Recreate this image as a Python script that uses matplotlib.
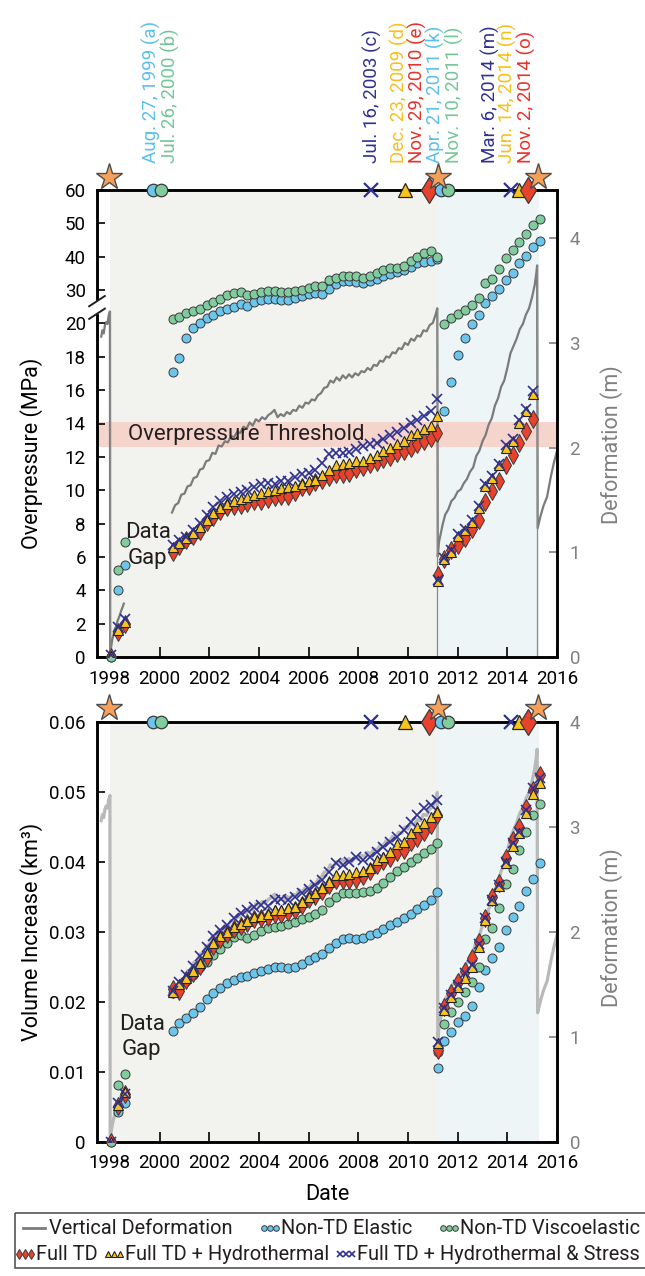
import numpy as np
import matplotlib
matplotlib.use('Agg')
import matplotlib.pyplot as plt
from matplotlib import font_manager
from matplotlib.patches import Rectangle
from matplotlib.transforms import blended_transform_factory

plt.rcParams['font.family'] = ['Roboto', 'DejaVu Sans']

# ---------------- data ----------------
# sample dates (decimal years)
tA = [1998.05, 1998.32, 1998.60]
tB = [2000.52, 2000.79, 2001.07, 2001.34, 2001.62, 2001.89, 2002.16, 2002.44, 2002.71, 2002.99,
      2003.26, 2003.53, 2003.81, 2004.08, 2004.36, 2004.63, 2004.90, 2005.18, 2005.45, 2005.73,
      2006.00, 2006.27, 2006.55, 2006.82, 2007.10, 2007.37, 2007.64, 2007.92, 2008.19, 2008.47,
      2008.74, 2009.01, 2009.29, 2009.56, 2009.84, 2010.11, 2010.38, 2010.66, 2010.93, 2011.17]
tC = [2011.20, 2011.47, 2011.75, 2012.02, 2012.30, 2012.57, 2012.84, 2013.12, 2013.39, 2013.67,
      2013.94, 2014.21, 2014.49, 2014.76, 2015.04, 2015.31]

# overpressure (MPa)
p_td = [0.0, 1.5, 2.0,
        6.29, 6.65, 6.99, 7.28, 7.58, 8.08, 8.38, 8.78, 8.97, 9.03, 9.12, 9.21, 9.37, 9.37, 9.47, 9.57,
        9.67, 9.67, 9.87, 10.17, 10.27, 10.47, 10.61, 10.77, 10.96, 11.0, 11.06, 11.26, 11.4, 11.56,
        11.72, 11.86, 12.02, 12.22, 12.36, 12.56, 12.76, 12.96, 13.15, 13.45,
        4.9, 5.89, 6.42, 6.69, 7.14, 7.68, 8.24, 9.27, 9.97, 10.57, 11.52, 12.12, 12.86, 13.55, 14.25]
p_hyd = [0.05, 1.6, 2.1,
         6.58, 6.85, 7.14, 7.44, 7.78, 8.22, 8.64, 8.92, 9.18, 9.37, 9.47, 9.57, 9.71, 9.83, 9.97, 10.03,
         10.11, 10.17, 10.23, 10.37, 10.57, 10.63, 10.91, 11.21, 11.51, 11.56, 11.66, 11.76, 11.76, 11.92,
         12.12, 12.36, 12.56, 12.76, 12.96, 13.31, 13.45, 13.65, 13.85, 14.45,
         4.58, 5.85, 6.3, 7.25, 7.6, 8.1, 8.95, 10.25, 10.75, 11.5, 12.55, 12.95, 14.05, 14.75, 15.75]
p_str = [0.1, 1.8, 2.3,
         6.69, 6.99, 7.22, 7.62, 8.04, 8.52, 8.97, 9.33, 9.57, 9.77, 9.91, 10.03, 10.17, 10.37, 10.43, 10.37,
         10.57, 10.57, 10.77, 10.96, 11.06, 11.21, 11.66, 12.16, 12.26, 12.26, 12.32, 12.46, 12.66, 12.76,
         12.86, 13.06, 13.31, 13.51, 13.75, 14.05, 14.19, 14.45, 14.75, 15.45,
         4.64, 5.95, 6.39, 7.38, 7.68, 8.22, 9.07, 10.37, 10.87, 11.6, 12.7, 13.09, 14.19, 14.89, 15.93]
p_el = [0.0, 4.0, 5.5,
        17.07, 17.9, 19.1, 19.7, 20.0, 21.5, 22.4, 23.6, 24.3, 24.9, 25.7, 25.1, 26.3, 27.0, 27.2, 27.2,
        27.0, 27.0, 27.5, 28.2, 28.9, 29.1, 28.7, 30.4, 31.7, 32.7, 32.7, 32.5, 32.2, 32.7, 33.2, 34.2,
        34.9, 35.5, 36.0, 37.0, 38.0, 38.3, 38.8, 39.2,
        14.75, 16.5, 18.09, 19.12, 19.98, 22.6, 26.0, 28.2, 30.2, 33.0, 35.2, 38.0, 40.3, 42.8, 44.6]
p_ve = [0.0, 5.2, 6.9,
        21.3, 21.9, 23.1, 23.8, 24.4, 25.4, 26.5, 27.2, 28.4, 29.0, 29.4, 28.4, 28.9, 29.4, 29.7, 29.7,
        29.4, 29.4, 29.7, 30.1, 30.5, 31.2, 31.2, 32.9, 33.7, 34.2, 34.2, 34.2, 33.7, 34.2, 35.2, 36.0,
        36.6, 36.6, 37.3, 38.8, 39.8, 41.0, 41.8, 40.0,
        19.96, 21.6, 22.9, 24.1, 25.4, 27.7, 32.2, 33.2, 36.3, 39.6, 42.1, 44.5, 46.9, 49.4, 51.4]

# volume increase (km3)
v_td = [0.0, 0.0052, 0.0068,
        0.0218, 0.0216, 0.0232, 0.0242, 0.0252, 0.0265, 0.0280, 0.0290, 0.0297, 0.0305, 0.0309, 0.0313,
        0.0318, 0.0320, 0.0322, 0.0326, 0.0326, 0.0328, 0.0331, 0.0339, 0.0347, 0.0351, 0.0359, 0.0367,
        0.0374, 0.0374, 0.0374, 0.0376, 0.0380, 0.0387, 0.0396, 0.0402, 0.0406, 0.0414, 0.0417, 0.0429,
        0.0435, 0.0443, 0.0453, 0.0467,
        0.01314, 0.01933, 0.02124, 0.0229, 0.02448, 0.02624, 0.02862, 0.03195, 0.03505, 0.03695,
        0.04052, 0.04314, 0.04505, 0.04767, 0.05029, 0.05243]
v_hyd = [0.0, 0.0053, 0.0072,
         0.02147, 0.02257, 0.02348, 0.02448, 0.02552, 0.02705, 0.02838, 0.02943, 0.03005, 0.03076,
         0.03114, 0.03162, 0.0321, 0.03229, 0.03257, 0.03314, 0.03314, 0.03338, 0.03362, 0.03433,
         0.03505, 0.03552, 0.03633, 0.0372, 0.03814, 0.03814, 0.03829, 0.03852, 0.03876, 0.03919,
         0.04029, 0.04076, 0.04148, 0.04252, 0.0429, 0.0441, 0.04495, 0.04562, 0.04638, 0.04719,
         0.0141, 0.01886, 0.02076, 0.02219, 0.02338, 0.02505, 0.0279, 0.03171, 0.03457, 0.03662,
         0.03981, 0.04229, 0.0441, 0.04695, 0.04971, 0.05124]
v_str = [0.0, 0.0056, 0.0069,
         0.0216, 0.0229, 0.02386, 0.02514, 0.02657, 0.0279, 0.02943, 0.03029, 0.031, 0.03195, 0.03267,
         0.03314, 0.03352, 0.03386, 0.03371, 0.03457, 0.03467, 0.03457, 0.03505, 0.03552, 0.0361,
         0.03671, 0.03743, 0.03862, 0.03981, 0.03957, 0.04005, 0.04076, 0.04029, 0.04076, 0.04148,
         0.04219, 0.0429, 0.04362, 0.04457, 0.04576, 0.04671, 0.04767, 0.04814, 0.04886,
         0.01433, 0.0191, 0.021, 0.02243, 0.0241, 0.02529, 0.02829, 0.03195, 0.03457, 0.03671,
         0.04005, 0.04267, 0.04433, 0.04743, 0.05052, 0.05195]
v_el = [0.0, 0.0043, 0.0056,
        0.01586, 0.01695, 0.01776, 0.01848, 0.01933, 0.02038, 0.02124, 0.02195, 0.02267, 0.02314,
        0.02362, 0.02376, 0.02419, 0.02443, 0.02467, 0.02495, 0.025, 0.02481, 0.025, 0.02543, 0.026,
        0.02648, 0.0268, 0.02767, 0.02838, 0.02895, 0.0291, 0.02895, 0.02919, 0.02957, 0.02981,
        0.03038, 0.031, 0.03148, 0.03195, 0.03257, 0.03329, 0.03386, 0.03457, 0.03576,
        0.01062, 0.01448, 0.01576, 0.0171, 0.01805, 0.01943, 0.0221, 0.02457, 0.02624, 0.02781,
        0.03029, 0.0321, 0.03376, 0.0359, 0.03757, 0.03981]
v_ve = [0.0, 0.0081, 0.0097,
        0.0213, 0.0222, 0.0230, 0.0238, 0.02495, 0.02576, 0.02671, 0.02752, 0.02848, 0.02924, 0.02957,
        0.0291, 0.02957, 0.03014, 0.03062, 0.03076, 0.0308, 0.0311, 0.03148, 0.03181, 0.03219, 0.03257,
        0.03314, 0.03424, 0.03505, 0.03562, 0.03562, 0.03562, 0.03576, 0.03586, 0.03624, 0.03695,
        0.0379, 0.03871, 0.03933, 0.03995, 0.04062, 0.04124, 0.04186, 0.0427,
        0.0129, 0.01686, 0.01862, 0.02005, 0.02148, 0.0229, 0.02505, 0.02895, 0.03052, 0.03338,
        0.03681, 0.039, 0.04171, 0.04433, 0.04671, 0.04824]

# vertical deformation (m), nan marks the data gap
defo_t = [1997.65, 1997.70, 1997.75, 1997.80, 1997.85, 1997.90, 1997.95, 1998.00,
          1998.01, 1998.05, 1998.10, 1998.15, 1998.20, 1998.25, 1998.30, 1998.35, 1998.40, 1998.45,
          1998.50, 1998.56,
          1999.50,
          2000.5, 2000.625, 2000.75, 2000.875,
          2001.0, 2001.125, 2001.25, 2001.375, 2001.5, 2001.625, 2001.75, 2001.875,
          2002.0, 2002.125, 2002.25, 2002.375, 2002.5, 2002.625, 2002.75, 2002.875,
          2003.0, 2003.125, 2003.25, 2003.375, 2003.5, 2003.625, 2003.75, 2003.875,
          2004.0, 2004.125, 2004.25, 2004.375, 2004.5, 2004.625, 2004.75, 2004.875,
          2005.0, 2005.125, 2005.25, 2005.375, 2005.5, 2005.625, 2005.75, 2005.875,
          2006.0, 2006.125, 2006.25, 2006.375, 2006.5, 2006.625, 2006.75, 2006.875,
          2007.0, 2007.125, 2007.25, 2007.375, 2007.5, 2007.625, 2007.75, 2007.875,
          2008.0, 2008.125, 2008.25, 2008.375, 2008.5, 2008.625, 2008.75, 2008.875,
          2009.0, 2009.125, 2009.25, 2009.375, 2009.5, 2009.625, 2009.75, 2009.875,
          2010.0, 2010.125, 2010.25, 2010.375, 2010.5, 2010.625, 2010.75, 2010.875,
          2011.0, 2011.125, 2011.18,
          2011.20, 2011.25, 2011.33, 2011.40, 2011.50, 2011.625, 2011.75, 2011.875,
          2012.0, 2012.125, 2012.25, 2012.375, 2012.5, 2012.625, 2012.75, 2012.875,
          2013.0, 2013.125, 2013.25, 2013.375, 2013.5, 2013.625, 2013.75, 2013.875,
          2014.0, 2014.125, 2014.25, 2014.375, 2014.5, 2014.625, 2014.75, 2014.875,
          2015.0, 2015.1, 2015.16, 2015.2,
          2015.22, 2015.33, 2015.45, 2015.6, 2015.75, 2015.87, 2016.0, 2016.1]
defo_v = [3.06, 3.12, 3.09, 3.17, 3.20, 3.18, 3.26, 3.30,
          0.00, 0.10, 0.17, 0.22, 0.27, 0.29, 0.34, 0.37, 0.40, 0.44,
          0.47, 0.51,
          np.nan,
          1.38, 1.45, 1.47, 1.55,
          1.56, 1.63, 1.64, 1.71, 1.72, 1.79, 1.80, 1.87,
          1.88, 1.95, 1.94, 2.02, 2.01, 2.06, 2.05, 2.11,
          2.10, 2.15, 2.14, 2.20, 2.18, 2.24, 2.21, 2.27,
          2.25, 2.29, 2.27, 2.31, 2.33, 2.36, 2.29, 2.32,
          2.30, 2.34, 2.32, 2.36, 2.35, 2.40, 2.38, 2.43,
          2.42, 2.46, 2.45, 2.50, 2.52, 2.57, 2.58, 2.64,
          2.62, 2.67, 2.64, 2.69, 2.66, 2.70, 2.67, 2.71,
          2.69, 2.73, 2.72, 2.76, 2.74, 2.79, 2.78, 2.83,
          2.82, 2.87, 2.86, 2.91, 2.90, 2.95, 2.94, 3.00,
          2.98, 3.04, 3.02, 3.07, 3.06, 3.12, 3.11, 3.17,
          3.19, 3.28, 3.33,
          0.96, 1.10, 1.19, 1.27, 1.36, 1.41, 1.49, 1.52,
          1.58, 1.60, 1.66, 1.70, 1.77, 1.81, 1.92, 1.97,
          2.06, 2.12, 2.22, 2.28, 2.40, 2.47, 2.58, 2.64,
          2.76, 2.90, 2.97, 3.04, 3.13, 3.18, 3.27, 3.33,
          3.44, 3.55, 3.65, 3.74,
          1.23, 1.34, 1.44, 1.53, 1.72, 1.85, 1.97, 2.05]

# eruptions and threshold-crossing dates shown along the top
erupt_t = [1997.96, 2011.2, 2015.24]
event_t = [1999.72, 2000.04, 2008.52, 2009.88, 2010.84, 2011.34, 2011.60, 2014.16, 2014.48, 2014.84]
event_kind = ['el', 've', 'str', 'hyd', 'td', 'el', 've', 'str', 'hyd', 'td']
event_text = ['Aug. 27, 1999 (a)', 'Jul. 26, 2000 (b)', 'Jul. 16, 2003 (c)', 'Dec. 23, 2009 (d)',
              'Nov. 29, 2010 (e)', 'Apr. 21, 2011 (k)', 'Nov. 10, 2011 (l)', 'Mar. 6, 2014 (m)',
              'Jun. 14, 2014 (n)', 'Nov. 2, 2014 (o)']
event_text_x = [1999.66, 2000.42, 2008.56, 2009.64, 2010.38, 2011.12, 2011.88, 2013.30, 2014.02, 2014.76]

threshold = (12.6, 14.1)
gray_span = (1998.02, 2011.22)
blue_span = (2011.22, 2015.28)

# ---------------- styles ----------------
C_EL = '#6cc6ec'
C_VE = '#80cc9e'
C_TD = '#e8412c'
C_HYD = '#f8c41c'
C_STR = '#2e3192'
C_STAR = '#f6a05a'
EDGE = '#3a3a3a'
GRAYTXT = '#808080'
INK = '#231f20'

text_col = {'el': '#5cc0ea', 've': '#72c796', 'td': '#e8312a', 'hyd': '#f9c01a', 'str': C_STR}

small = {
    'el': dict(marker='o', ms=6.5, mfc=C_EL, mec=EDGE, mew=0.7),
    've': dict(marker='o', ms=6.5, mfc=C_VE, mec=EDGE, mew=0.7),
    'td': dict(marker='d', ms=9, mfc=C_TD, mec=EDGE, mew=0.7),
    'hyd': dict(marker='^', ms=7, mfc=C_HYD, mec='#222222', mew=0.8),
    'str': dict(marker='x', ms=7, mec=C_STR, mew=1.2),
}
big = {
    'el': dict(marker='o', ms=9, mfc=C_EL, mec=EDGE, mew=0.9),
    've': dict(marker='o', ms=9, mfc=C_VE, mec=EDGE, mew=0.9),
    'td': dict(marker='d', ms=13, mfc=C_TD, mec=EDGE, mew=0.9),
    'hyd': dict(marker='^', ms=10, mfc=C_HYD, mec='#222222', mew=0.9),
    'str': dict(marker='x', ms=10, mec=C_STR, mew=1.6),
}

W, H = 645, 1276
fig = plt.figure(figsize=(W / 100, H / 100), dpi=100)


def box(l, t, r, b):
    return [l / W, 1 - b / H, (r - l) / W, (b - t) / H]


def fwd(y):
    y = np.asarray(y, dtype=float)
    return np.where(y <= 20, y, 20 + (y - 20) / 5)


def inv(z):
    z = np.asarray(z, dtype=float)
    return np.where(z <= 20, z, 20 + (z - 20) * 5)


def make_panel(rect):
    axr = fig.add_axes(rect)
    ax = axr.twinx()
    # left axis (models) on top, right axis (deformation) underneath
    ax.yaxis.set_label_position('left')
    ax.yaxis.tick_left()
    axr.yaxis.set_label_position('right')
    axr.yaxis.tick_right()
    ax.set_zorder(axr.get_zorder() + 1)
    ax.patch.set_visible(False)
    for a in (ax, axr):
        for s in a.spines.values():
            s.set_linewidth(1.8)
        a.set_xlim(1997.48, 2016)
    axr.axvspan(*gray_span, color='#f2f2ee', lw=0, zorder=0)
    axr.axvspan(*blue_span, color='#eef5f6', lw=0, zorder=0)
    ax.tick_params(axis='y', direction='in', length=6, width=1.2, labelsize=13.5, pad=8)
    axr.tick_params(axis='y', direction='in', length=6, width=1.2, labelsize=13.5, pad=9,
                    colors=GRAYTXT, labelcolor=GRAYTXT)
    axr.tick_params(axis='x', direction='in', length=7, width=1.2, labelsize=13.5, pad=9, top=False)
    ax.tick_params(axis='x', bottom=False, top=False, labelbottom=False)
    axr.set_xticks(range(1998, 2017, 2))
    return ax, axr


def plot_models(ax, tm, tn, td, hyd, stv, el, ve):
    ax.plot(tn, el, ls='none', zorder=3, clip_on=False, **small['el'])
    ax.plot(tn, ve, ls='none', zorder=3, clip_on=False, **small['ve'])
    ax.plot(tm, td, ls='none', zorder=4, **small['td'])
    ax.plot(tm, hyd, ls='none', zorder=4, **small['hyd'])
    ax.plot(tm, stv, ls='none', zorder=5, **small['str'])


def plot_events(ax, ytop, ystar, labels):
    for t, k in zip(event_t, event_kind):
        ax.plot([t], [ytop], ls='none', clip_on=False, zorder=8, **big[k])
    ax.plot(erupt_t, [ystar] * len(erupt_t), ls='none', marker='*', ms=20, mfc=C_STAR,
            mec='#4d4d4d', mew=1.0, clip_on=False, zorder=9)
    if labels:
        tr = blended_transform_factory(ax.transData, ax.transAxes)
        for x, s, k in zip(event_text_x, event_text, event_kind):
            ax.text(x, 1.058, s, transform=tr, rotation=90, ha='center', va='bottom',
                    fontsize=13.5, color=text_col[k])


# ---------------- top panel: overpressure ----------------
ax1, ax1r = make_panel(box(97, 190, 557, 657))
ax1.set_yscale('function', functions=(fwd, inv))
ax1.set_ylim(0, 60)
ticks1 = [0, 2, 4, 6, 8, 10, 12, 14, 16, 18, 20, 30, 40, 50, 60]
ax1.set_yticks(ticks1)
ax1.set_yticklabels([str(v) for v in ticks1])
ax1.minorticks_off()
ax1r.set_ylim(0, 4.46)
ax1r.set_yticks([0, 1, 2, 3, 4])
ax1r.set_yticklabels(['0', '1', '2', '3', '4'])

band_tr = blended_transform_factory(ax1r.transAxes, ax1.transData)
ax1r.add_patch(Rectangle((0, threshold[0]), 1, threshold[1] - threshold[0], transform=band_tr,
                         facecolor='#f5d4cb', edgecolor='none', zorder=1))
ax1.text(1998.72, 13.35, 'Overpressure Threshold', fontsize=16, va='center', ha='left',
         color=INK, zorder=6)

dt = np.array(defo_t)
dv = np.array(defo_v)
ax1r.plot(dt, dv, color='#7b7b7b', lw=1.6, zorder=2)
with np.errstate(invalid='ignore'):
    drop = np.where(np.diff(dv) < -1)[0]
ax1r.vlines(dt[drop], 0, dv[drop], color='#8a8a8a', lw=0.9, zorder=2)

top_tm = tA + tB + tC[:15]
top_tn = tA + tB + tC[1:]
plot_models(ax1, top_tm, top_tn, p_td, p_hyd, p_str, p_el, p_ve)
plot_events(ax1, 60, 64, True)

ax1.text(1999.52, 6.7, 'Data\nGap', fontsize=16, ha='center', va='center', linespacing=1.3,
         color=INK, zorder=6)
ax1.set_ylabel('Overpressure (MPa)', fontsize=15.5)
ax1.yaxis.set_label_coords(-0.117, 0.437)
ax1r.set_ylabel('Deformation (m)', fontsize=15.5, color=GRAYTXT, rotation=90)
ax1r.yaxis.set_label_coords(1.093, 0.454)

# axis break on the left spine
for c in (0.735, 0.762):
    ax1.plot([-0.017, 0.017], [c - 0.011, c + 0.011], transform=ax1.transAxes, color=INK,
             lw=1.4, clip_on=False, zorder=10)
ax1.plot([0, 0], [0.738, 0.759], transform=ax1.transAxes, color='white', lw=3,
         clip_on=False, zorder=9)

# ---------------- bottom panel: volume ----------------
ax2, ax2r = make_panel(box(97, 722, 557, 1142))
ax2.set_ylim(0, 0.06)
ticks2 = [0, 0.01, 0.02, 0.03, 0.04, 0.05, 0.06]
ax2.set_yticks(ticks2)
ax2.set_yticklabels(['0', '0.01', '0.02', '0.03', '0.04', '0.05', '0.06'])
ax2r.set_ylim(0, 4.0)
ax2r.set_yticks([0, 1, 2, 3, 4])
ax2r.set_yticklabels(['0', '1', '2', '3', '4'])

ax2r.plot(dt, dv, color='#b9b9b9', lw=2.3, zorder=2)
bot_t = tA + tB + tC
plot_models(ax2, bot_t, bot_t, v_td, v_hyd, v_str, v_el, v_ve)
plot_events(ax2, 0.06, 0.062, False)

ax2.text(1999.28, 0.0150, 'Data\nGap', fontsize=16, ha='center', va='center', linespacing=1.3,
         color=INK, zorder=6)
ax2.set_ylabel('Volume Increase (km³)', fontsize=15.5)
ax2.yaxis.set_label_coords(-0.117, 0.5)
ax2r.set_ylabel('Deformation (m)', fontsize=15.5, color=GRAYTXT, rotation=90)
ax2r.yaxis.set_label_coords(1.093, 0.51)
ax2r.set_xlabel('Date', fontsize=15.5, labelpad=8)

# ---------------- legend ----------------
lax = fig.add_axes([0, 0, 1, 1], zorder=20)
lax.set_xlim(0, W)
lax.set_ylim(H, 0)
lax.axis('off')
lax.add_patch(Rectangle((15, 1213), 640, 55, fill=False, edgecolor='#555555', lw=1.2))

installed = {f.name for f in font_manager.fontManager.ttflist}
lfam = 'Liberation Sans Narrow' if 'Liberation Sans Narrow' in installed else 'Roboto'
renderer = fig.canvas.get_renderer()


def text_width(s, size):
    t = lax.text(0, 0, s, fontsize=size, family=lfam)
    w = t.get_window_extent(renderer).width
    t.remove()
    return w


# size the legend font so the longest entry fills the row
lsize = 13 * 283 / text_width('Full TD + Hydrothermal & Stress', 13)
lfont = dict(fontsize=lsize, va='center', ha='left', color=INK, family=lfam)


def trio(x0, y, key):
    st = dict(small[key])
    st['ms'] = st['ms'] * 0.62
    lax.plot([x0 + 2, x0 + 8, x0 + 14], [y, y, y], ls='none', **st)


def legend_row(y, first, items, right=640):
    # first: (handle drawer, label, text x); items: list of (key, label)
    draw, label, x_text = first
    draw()
    widths = [text_width(s, lsize) for _, s in items]
    w0 = text_width(label, lsize)
    lax.text(x_text, y, label, **lfont)
    used = x_text + w0 + sum(19 + w for w in widths)
    gap = (right - used) / len(items)
    x = x_text + w0 + gap
    for (key, s), w in zip(items, widths):
        trio(x, y, key)
        lax.text(x + 19, y, s, **lfont)
        x += 19 + w + gap


r1, r2 = 1228, 1254
legend_row(r1, (lambda: lax.plot([23, 45], [r1, r1], color='#7b7b7b', lw=2),
                'Vertical Deformation', 49),
           [('el', 'Non-TD Elastic'), ('ve', 'Non-TD Viscoelastic')])
legend_row(r2, (lambda: trio(17, r2, 'td'), 'Full TD', 36),
           [('hyd', 'Full TD + Hydrothermal'), ('str', 'Full TD + Hydrothermal & Stress')])

fig.savefig('out.png', dpi=100)
